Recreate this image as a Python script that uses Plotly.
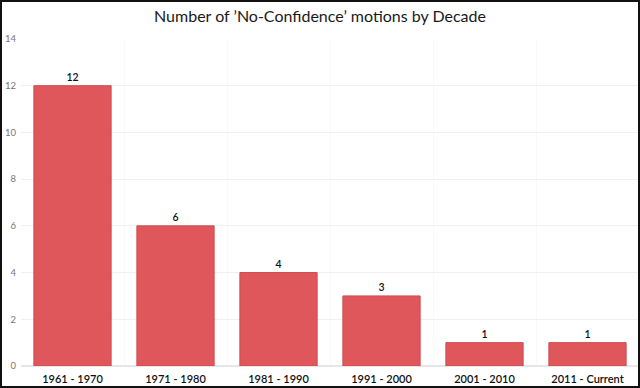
import plotly.graph_objects as go

decades = ["1961 - 1970", "1971 - 1980", "1981 - 1990", "1991 - 2000", "2001 - 2010", "2011 - Current"]
motions = [12, 6, 4, 3, 1, 1]
y_ticks = [0, 2, 4, 6, 8, 10, 12, 14]

fig = go.Figure(go.Bar(
    x=decades, y=motions,
    marker=dict(color="#e0575b", line=dict(color="#cf4a50", width=1)),
    width=0.75,
    text=[str(v) for v in motions], textposition="outside",
    textfont=dict(family="Lato", size=10.5, color="#111111", weight=600),
    cliponaxis=False,
))

fig.update_layout(
    width=640, height=388,
    margin=dict(l=21, r=1, t=39, b=22, autoexpand=False),
    paper_bgcolor="white", plot_bgcolor="white",
    title=dict(text="Number of ’No-Confidence’ motions by Decade", x=0.5, xanchor="center",
               y=0.958, yanchor="middle",
               font=dict(family="Lato", size=16, color="#1a1a1a")),
    showlegend=False,
    bargap=0.25,
    font=dict(family="Lato"),
)
fig.update_xaxes(
    automargin=False,
    tickfont=dict(family="Lato", size=11, color="#111111", weight=600),
    tickson="boundaries", showgrid=True, gridcolor="#f9f9f9", gridwidth=1,
    showline=False, ticks="", zeroline=False, ticklabelstandoff=5,
)
fig.update_yaxes(
    automargin=False,
    range=[0, 14], tickvals=y_ticks,
    tickfont=dict(family="Lato", size=9.5, color="#777777"),
    showgrid=True, gridcolor="#f0f0f0", zeroline=True, zerolinecolor="#e6e6e6",
    showline=False, ticks="", ticklabelstandoff=4,
)
fig.add_shape(type="rect", xref="paper", yref="paper", x0=-20/618, x1=1,
              y0=-21/327, y1=1+38/327, line=dict(color="#111111", width=2), fillcolor="rgba(0,0,0,0)")

fig.write_html("out.html", config={"displayModeBar": False},
               post_script="document.body.style.margin='0';document.body.style.overflow='hidden';")
